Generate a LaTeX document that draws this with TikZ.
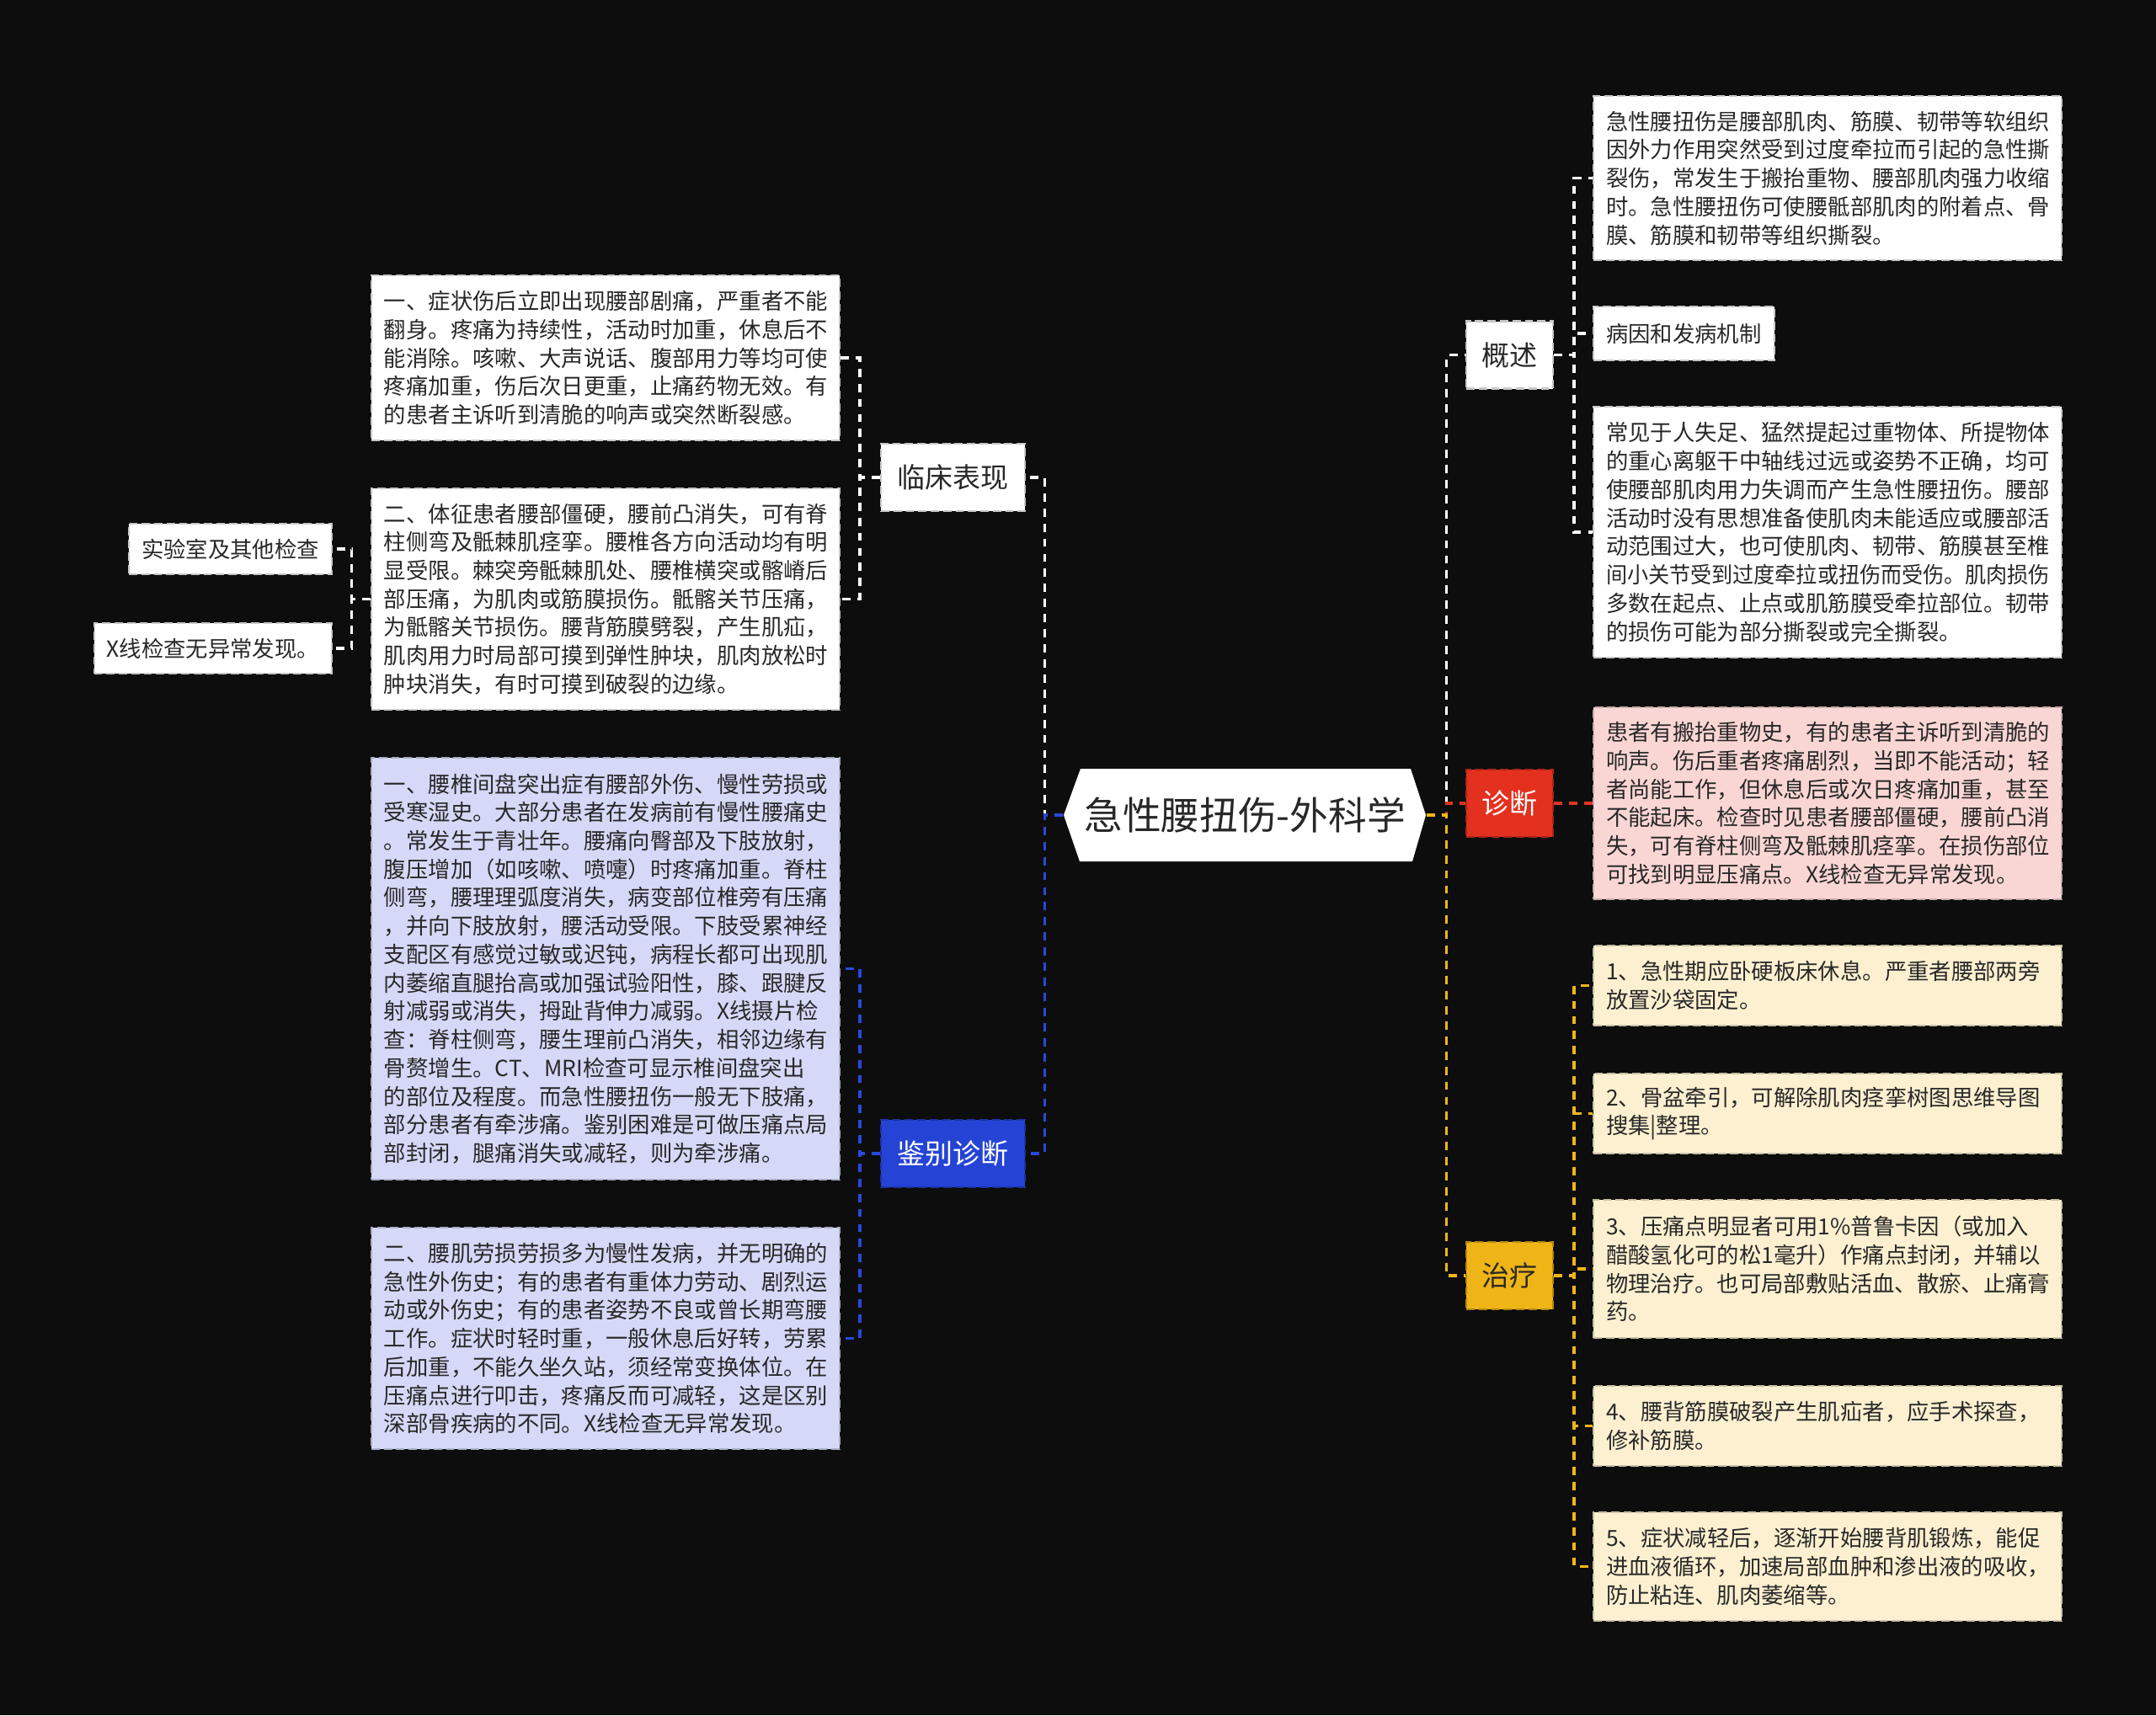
\documentclass[tikz,border=0pt]{standalone}
\usepackage{fontspec}
\setmainfont{Noto Sans CJK SC}

\definecolor{bgdark}{RGB}{13,13,13}
\definecolor{txtdark}{RGB}{40,40,40}
\definecolor{linkblue}{RGB}{42,72,218}
\definecolor{linkred}{RGB}{226,52,34}
\definecolor{linkyellow}{RGB}{240,182,24}
\definecolor{fillblue}{RGB}{37,68,214}
\definecolor{fillred}{RGB}{227,48,31}
\definecolor{fillyellow}{RGB}{239,181,22}
\definecolor{fillpink}{RGB}{249,214,212}
\definecolor{filllav}{RGB}{213,217,247}
\definecolor{fillcream}{RGB}{252,240,208}

\tikzset{
  box/.style={rectangle, inner xsep=0.15cm, inner ysep=0pt, text=txtdark,
    font=\fontsize{7.5pt}{9.6pt}\selectfont, line width=0.6pt,
    dash pattern=on 2.8pt off 1.4pt},
  detail/.style={box, text width=5.26cm, align=left},
  topic/.style={rectangle, minimum height=0.8cm, inner sep=0pt,
    font=\fontsize{9.4pt}{11pt}\selectfont, line width=0.6pt,
    dash pattern=on 2.8pt off 1.4pt},
  whitebox/.style={fill=white, draw=black!22},
  link/.style={line width=0.9pt, dash pattern=on 2.8pt off 2.3pt},
}

\begin{document}
\begin{tikzpicture}
    % Background
    \fill[bgdark] (0,0) rectangle (25.6,-20.37);
    \useasboundingbox (0,0) rectangle (25.6,-20.37);

    % Root
    \fill[white] (12.63,-9.68) -- (12.83,-9.13) -- (16.75,-9.13) -- (16.93,-9.68)
        -- (16.77,-10.23) -- (12.82,-10.23) -- cycle;
    \node[minimum width=4.3cm, minimum height=1.1cm, inner sep=0pt, text=txtdark,
        font=\fontsize{13pt}{15pt}\selectfont] (root) at (14.78,-9.68) {急性腰扭伤-外科学};

    % Main topics
    \node[topic, whitebox, minimum width=1.71cm, text=txtdark] (lc) at (11.315,-5.67) {临床表现};
    \node[topic, fill=fillblue, draw=fillblue!75!black, minimum width=1.71cm, text=white] (jb) at (11.315,-13.70) {鉴别诊断};
    \node[topic, whitebox, minimum width=1.03cm, text=txtdark] (gs) at (17.925,-4.215) {概述};
    \node[topic, fill=fillred, draw=fillred!75!black, minimum width=1.03cm, text=white] (zd) at (17.925,-9.54) {诊断};
    \node[topic, fill=fillyellow, draw=fillyellow!75!black, minimum width=1.03cm, text=txtdark] (zl) at (17.925,-15.15) {治疗};

    % Clinical
    \node[detail, whitebox, anchor=east, minimum height=1.96cm] (lc1) at (9.98,-4.25)
        {一、症状伤后立即出现腰部剧痛，严重者不能\\翻身。疼痛为持续性，活动时加重，休息后不\\能消除。咳嗽、大声说话、腹部用力等均可使\\疼痛加重，伤后次日更重，止痛药物无效。有\\的患者主诉听到清脆的响声或突然断裂感。};
    \node[detail, whitebox, anchor=east, minimum height=2.63cm] (lc2) at (9.98,-7.115)
        {二、体征患者腰部僵硬，腰前凸消失，可有脊\\柱侧弯及骶棘肌痉挛。腰椎各方向活动均有明\\显受限。棘突旁骶棘肌处、腰椎横突或髂嵴后\\部压痛，为肌肉或筋膜损伤。骶髂关节压痛，\\为骶髂关节损伤。腰背筋膜劈裂，产生肌疝，\\肌肉用力时局部可摸到弹性肿块，肌肉放松时\\肿块消失，有时可摸到破裂的边缘。};
    \node[box, whitebox, anchor=east, minimum height=0.6cm] (lab) at (3.95,-6.52) {实验室及其他检查};
    \node[box, whitebox, anchor=east, minimum height=0.6cm] (xray) at (3.95,-7.70) {X线检查无异常发现。};

    % Differential
    \node[detail, fill=filllav, draw=filllav!80!black, anchor=east, minimum height=5.01cm] (jb1) at (9.98,-11.505)
        {一、腰椎间盘突出症有腰部外伤、慢性劳损或\\受寒湿史。大部分患者在发病前有慢性腰痛史\\。常发生于青壮年。腰痛向臀部及下肢放射，\\腹压增加（如咳嗽、喷嚏）时疼痛加重。脊柱\\侧弯，腰理理弧度消失，病变部位椎旁有压痛\\，并向下肢放射，腰活动受限。下肢受累神经\\支配区有感觉过敏或迟钝，病程长都可出现肌\\内萎缩直腿抬高或加强试验阳性，膝、跟腱反\\射减弱或消失，拇趾背伸力减弱。X线摄片检\\查：脊柱侧弯，腰生理前凸消失，相邻边缘有\\骨赘增生。CT、MRI检查可显示椎间盘突出\\的部位及程度。而急性腰扭伤一般无下肢痛，\\部分患者有牵涉痛。鉴别困难是可做压痛点局\\部封闭，腿痛消失或减轻，则为牵涉痛。};
    \node[detail, fill=filllav, draw=filllav!80!black, anchor=east, minimum height=2.63cm] (jb2) at (9.98,-15.895)
        {二、腰肌劳损劳损多为慢性发病，并无明确的\\急性外伤史；有的患者有重体力劳动、剧烈运\\动或外伤史；有的患者姿势不良或曾长期弯腰\\工作。症状时轻时重，一般休息后好转，劳累\\后加重，不能久坐久站，须经常变换体位。在\\压痛点进行叩击，疼痛反而可减轻，这是区别\\深部骨疾病的不同。X线检查无异常发现。};

    % Overview
    \node[detail, whitebox, anchor=west, minimum height=1.95cm] (g1) at (18.91,-2.115)
        {急性腰扭伤是腰部肌肉、筋膜、韧带等软组织\\因外力作用突然受到过度牵拉而引起的急性撕\\裂伤，常发生于搬抬重物、腰部肌肉强力收缩\\时。急性腰扭伤可使腰骶部肌肉的附着点、骨\\膜、筋膜和韧带等组织撕裂。};
    \node[box, whitebox, anchor=west, minimum height=0.64cm] (g2) at (18.91,-3.96) {病因和发病机制};
    \node[detail, whitebox, anchor=west, minimum height=2.98cm] (g3) at (18.91,-6.32)
        {常见于人失足、猛然提起过重物体、所提物体\\的重心离躯干中轴线过远或姿势不正确，均可\\使腰部肌肉用力失调而产生急性腰扭伤。腰部\\活动时没有思想准备使肌肉未能适应或腰部活\\动范围过大，也可使肌肉、韧带、筋膜甚至椎\\\scalebox{0.952}[1]{间小关节受到过度牵拉或扭伤而受伤。肌肉损伤}\\多数在起点、止点或肌筋膜受牵拉部位。韧带\\的损伤可能为部分撕裂或完全撕裂。};

    % Diagnosis
    \node[detail, fill=fillpink, draw=fillpink!80!black, anchor=west, minimum height=2.28cm] (d1) at (18.91,-9.54)
        {患者有搬抬重物史，有的患者主诉听到清脆的\\响声。伤后重者疼痛剧烈，当即不能活动；轻\\者尚能工作，但休息后或次日疼痛加重，甚至\\不能起床。检查时见患者腰部僵硬，腰前凸消\\失，可有脊柱侧弯及骶棘肌痉挛。在损伤部位\\可找到明显压痛点。X线检查无异常发现。};

    % Treatment
    \tikzset{cure/.style={detail, fill=fillcream, draw=fillcream!80!black, anchor=west}}
    \node[cure, minimum height=0.95cm] (t1) at (18.91,-11.705)
        {1、急性期应卧硬板床休息。严重者腰部两旁\\放置沙袋固定。};
    \node[cure, minimum height=0.95cm] (t2) at (18.91,-13.225)
        {2、骨盆牵引，可解除肌肉痉挛树图思维导图\\搜集|整理。};
    \node[cure, minimum height=1.64cm] (t3) at (18.91,-15.07)
        {3、压痛点明显者可用1\%普鲁卡因（或加入\\醋酸氢化可的松1毫升）作痛点封闭，并辅以\\物理治疗。也可局部敷贴活血、散瘀、止痛膏\\药。};
    \node[cure, minimum height=0.95cm] (t4) at (18.91,-16.935)
        {4、腰背筋膜破裂产生肌疝者，应手术探查，\\修补筋膜。};
    \node[cure, minimum height=1.29cm] (t5) at (18.91,-18.605)
        {5、症状减轻后，逐渐开始腰背肌锻炼，能促\\进血液循环，加速局部血肿和渗出液的吸收，\\防止粘连、肌肉萎缩等。};

    % Links, left side
    \draw[link, white] (root.west) -- ++(-0.22,0) |- (lc.east);
    \draw[link, linkblue] (root.west) -- ++(-0.22,0) |- (jb.east);
    \foreach \c in {lc1,lc2}
        \draw[link, white] (lc.west) -- ++(-0.24,0) |- (\c.east);
    \foreach \c in {lab,xray}
        \draw[link, white] (lc2.west) -- ++(-0.22,0) |- (\c.east);
    \foreach \c in {jb1,jb2}
        \draw[link, linkblue] (jb.west) -- ++(-0.24,0) |- (\c.east);

    % Links, right side
    \draw[link, white] (root.east) -- ++(0.24,0) |- (gs.west);
    \draw[link, linkred] (root.east) -- ++(0.24,0) |- (zd.west);
    \draw[link, linkyellow] (root.east) -- ++(0.24,0) |- (zl.west);
    \foreach \c in {g1,g2,g3}
        \draw[link, white] (gs.east) -- ++(0.24,0) |- (\c.west);
    \draw[link, linkred] (zd.east) -- (d1.west);
    \foreach \c in {t1,t2,t3,t4,t5}
        \draw[link, linkyellow] (zl.east) -- ++(0.24,0) |- (\c.west);

\end{tikzpicture}
\end{document}
